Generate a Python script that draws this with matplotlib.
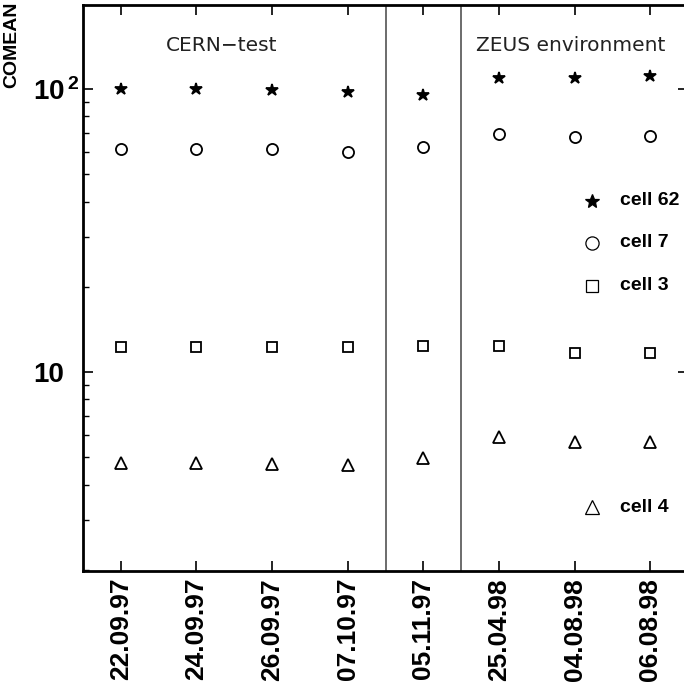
import matplotlib
matplotlib.use("Agg")
import matplotlib.pyplot as plt

dates = ["22.09.97", "24.09.97", "26.09.97", "07.10.97", "05.11.97",
         "25.04.98", "04.08.98", "06.08.98"]
cell62 = [99.8, 99.8, 99.2, 97.3, 95.0, 109.0, 109.0, 111.0]
cell7 = [61.3, 61.3, 61.3, 59.7, 62.5, 69.3, 67.9, 68.2]
cell3 = [12.3, 12.3, 12.3, 12.3, 12.4, 12.4, 11.7, 11.7]
cell4 = [4.75, 4.75, 4.72, 4.70, 4.98, 5.91, 5.67, 5.67]
period_breaks = [4.5, 5.5]

plt.rcParams["mathtext.fontset"] = "custom"
plt.rcParams["mathtext.bf"] = "Liberation Sans:bold"
plt.rcParams["mathtext.rm"] = "Liberation Sans:bold"

fig = plt.figure(figsize=(6.84, 6.84), dpi=100)
ax = fig.add_axes([83 / 684, 1 - 571 / 684, 605 / 684, 566 / 684])

xs = list(range(1, len(dates) + 1))
styles = [
    (cell62, "*", 9, "black", "cell 62", 0.654),
    (cell7, "o", 8, "none", "cell 7", 0.580),
    (cell3, "s", 7.5, "none", "cell 3", 0.504),
    (cell4, "^", 8, "none", "cell 4", 0.113),
]
for ys, mk, ms, fc, label, ly in styles:
    ax.plot(xs, ys, ls="none", marker=mk, ms=ms, mfc=fc, mec="black", mew=1.3)
    # hand-placed key, as in the original
    ax.plot([0.841], [ly], ls="none", marker=mk, ms=ms + 1.5, mfc=fc, mec="black",
            mew=0.9, transform=ax.transAxes, clip_on=False)
    ax.text(0.888, ly, label, transform=ax.transAxes, ha="left", va="center",
            fontsize=14, fontweight="bold", family="Liberation Sans")

for xb in period_breaks:
    ax.axvline(xb, color="#444444", lw=1.1)

ax.text(0.2298, 0.929, "CERN\u2212test", transform=ax.transAxes, ha="center",
        va="center", fontsize=14.5, color="#222222", family="DejaVu Sans")
ax.text(0.806, 0.929, "ZEUS environment", transform=ax.transAxes, ha="center",
        va="center", fontsize=14.5, color="#222222", family="DejaVu Sans")

ax.set_yscale("log")
ax.set_ylim(1.98, 198)
ax.set_xlim(0.5, 8.5)
ax.set_xticks(xs)
ax.set_xticklabels(dates, rotation=90, fontsize=19, fontweight="bold",
                   family="Liberation Sans")
ax.set_yticks([10, 100])
ax.set_yticklabels(["10", r"$\mathbf{10^{\,2}}$"], fontsize=20, fontweight="bold",
                   family="Liberation Sans")
plt.setp(ax.get_yticklabels(), ha="left")
ax.tick_params(which="major", direction="in", length=7, width=1.2,
               top=True, right=True)
ax.tick_params(which="minor", direction="in", length=4, width=1.0,
               top=False, right=False, bottom=False)
ax.tick_params(axis="x", pad=5)
ax.tick_params(axis="y", pad=36)
ax.yaxis.set_minor_formatter(matplotlib.ticker.NullFormatter())
for sp in ax.spines.values():
    sp.set_linewidth(2.0)

fig.text(12 / 684, 1 - 2 / 684, "COMEAN", rotation=90, ha="center", va="top",
         fontsize=14, fontweight="bold", family="Liberation Sans")

fig.savefig("out.png", dpi=100)
